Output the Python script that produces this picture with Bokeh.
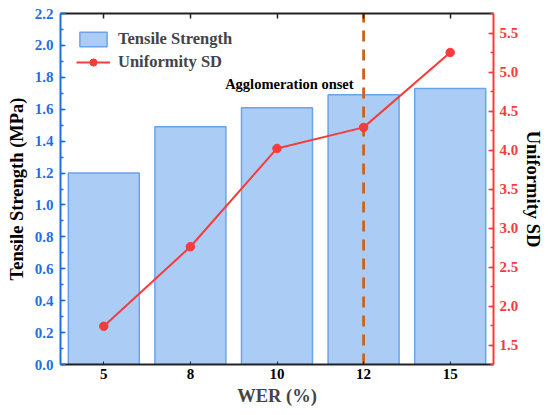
from bokeh.plotting import figure
from bokeh.models import (FactorRange, Range1d, LinearAxis, CategoricalAxis, SingleIntervalTicker,
                          NumeralTickFormatter, Legend, LegendItem, ColumnDataSource)
from bokeh.core.properties import value
from bokeh.embed import file_html
from bokeh.resources import INLINE

wer = ["5", "8", "10", "12", "15"]
tensile = [1.20, 1.49, 1.61, 1.69, 1.73]
uniformity_sd = [1.74, 2.76, 4.02, 4.29, 5.25]
onset_wer = "12"
onset_label = "Agglomeration onset"

FONT = "Liberation Serif"
BLUE = "#1f6fe3"
RED = "#f53c3c"

p = figure(width=550, height=415, x_range=FactorRange(factors=wer, range_padding=0),
           y_range=Range1d(0, 2.2), output_backend="svg", toolbar_location=None,
           min_border_left=60, min_border_right=57, min_border_top=13, min_border_bottom=51)
p.extra_y_ranges = {"sd": Range1d(1.25, 5.75)}
p.outline_line_color = None
p.xgrid.visible = False
p.ygrid.visible = False
p.background_fill_color = "white"
p.border_fill_color = "white"

src = ColumnDataSource(dict(wer=wer, tensile=tensile, sd=uniformity_sd))

bars = p.vbar(x="wer", top="tensile", width=0.82, source=src,
              fill_color="#abcdf5", line_color="#6aa2ec", line_width=1.5)

# onset dashed line
p.segment(x0=[onset_wer], y0=[p.y_range.start], x1=[onset_wer], y1=[p.y_range.end],
          line_color="#c8641e", line_width=2.8, line_dash="11 8")

ln = p.line(x="wer", y="sd", source=src, y_range_name="sd", line_color=RED, line_width=2)
sc = p.scatter(x="wer", y="sd", source=src, y_range_name="sd", size=8.5,
               fill_color=RED, line_color=RED)

p.text(x=[onset_wer], y=[1.755], text=[onset_label], text_font=value(FONT),
       text_font_style="bold", text_font_size="14.5px", text_align="right",
       text_baseline="middle", x_offset=-10, text_color="black")

LABEL_SIZE = "18.5px"
TICK_SIZE = "15px"

# bottom axis
xa = p.xaxis[0]
xa.axis_label = "WER (%)"
xa.axis_label_text_font = FONT
xa.axis_label_text_font_style = "bold"
xa.axis_label_text_font_size = LABEL_SIZE
xa.axis_label_standoff = 4
xa.major_label_text_font = FONT
xa.major_label_text_font_style = "bold"
xa.major_label_text_font_size = TICK_SIZE
xa.major_label_text_color = "black"
xa.major_label_standoff = 4
xa.axis_line_color = "#222222"
xa.axis_line_width = 2
xa.major_tick_in = 3
xa.major_tick_out = 0
xa.major_tick_line_color = "#222222"

# left axis
ya = p.yaxis[0]
ya.ticker = SingleIntervalTicker(interval=0.2, num_minor_ticks=2)
ya.formatter = NumeralTickFormatter(format="0.0")
ya.axis_label = "Tensile Strength (MPa)"
ya.axis_label_text_font = FONT
ya.axis_label_text_font_style = "bold"
ya.axis_label_text_font_size = LABEL_SIZE
ya.axis_label_text_color = "black"
ya.axis_label_standoff = 5
ya.major_label_text_font = FONT
ya.major_label_text_font_style = "bold"
ya.major_label_text_font_size = TICK_SIZE
ya.major_label_text_color = BLUE
ya.major_label_standoff = 7
ya.axis_line_color = BLUE
ya.axis_line_width = 2
ya.major_tick_line_color = BLUE
ya.minor_tick_line_color = BLUE
ya.major_tick_in = 5
ya.major_tick_out = 0
ya.minor_tick_in = 3
ya.minor_tick_out = 0
ya.major_tick_line_width = 1.5
ya.minor_tick_line_width = 1.5

# right axis
ra = LinearAxis(y_range_name="sd", ticker=SingleIntervalTicker(interval=0.5, num_minor_ticks=2),
                formatter=NumeralTickFormatter(format="0.0"))
ra.axis_label = "Uniformity SD"
ra.axis_label_text_font = FONT
ra.axis_label_text_font_style = "bold"
ra.axis_label_text_font_size = LABEL_SIZE
ra.axis_label_text_color = "black"
ra.axis_label_standoff = 2
ra.major_label_text_font = FONT
ra.major_label_text_font_style = "bold"
ra.major_label_text_font_size = TICK_SIZE
ra.major_label_text_color = RED
ra.major_label_standoff = 6
ra.axis_line_color = RED
ra.axis_line_width = 2
ra.major_tick_line_color = RED
ra.minor_tick_line_color = RED
ra.major_tick_in = 5
ra.major_tick_out = 0
ra.minor_tick_in = 3
ra.minor_tick_out = 0
ra.major_tick_line_width = 1.5
ra.minor_tick_line_width = 1.5
p.add_layout(ra, "right")

# top axis
ta = CategoricalAxis()
ta.major_label_text_font_size = "0px"
ta.major_label_text_color = None
ta.axis_line_color = "#222222"
ta.axis_line_width = 2
ta.major_tick_in = 5
ta.major_tick_out = 0
ta.major_tick_line_color = "#222222"
ta.major_tick_line_width = 1.5
p.add_layout(ta, "above")

legend = Legend(items=[LegendItem(label="Tensile Strength", renderers=[bars]),
                       LegendItem(label="Uniformity SD", renderers=[ln, sc])],
                location="top_left", border_line_color=None, background_fill_alpha=0,
                label_text_font=FONT, label_text_font_style="bold", label_text_font_size="16.5px",
                glyph_width=34, glyph_height=18, label_height=18, spacing=3,
                margin=16, padding=9, label_standoff=8)
p.add_layout(legend)

open("out.html", "w").write(file_html(p, INLINE))
